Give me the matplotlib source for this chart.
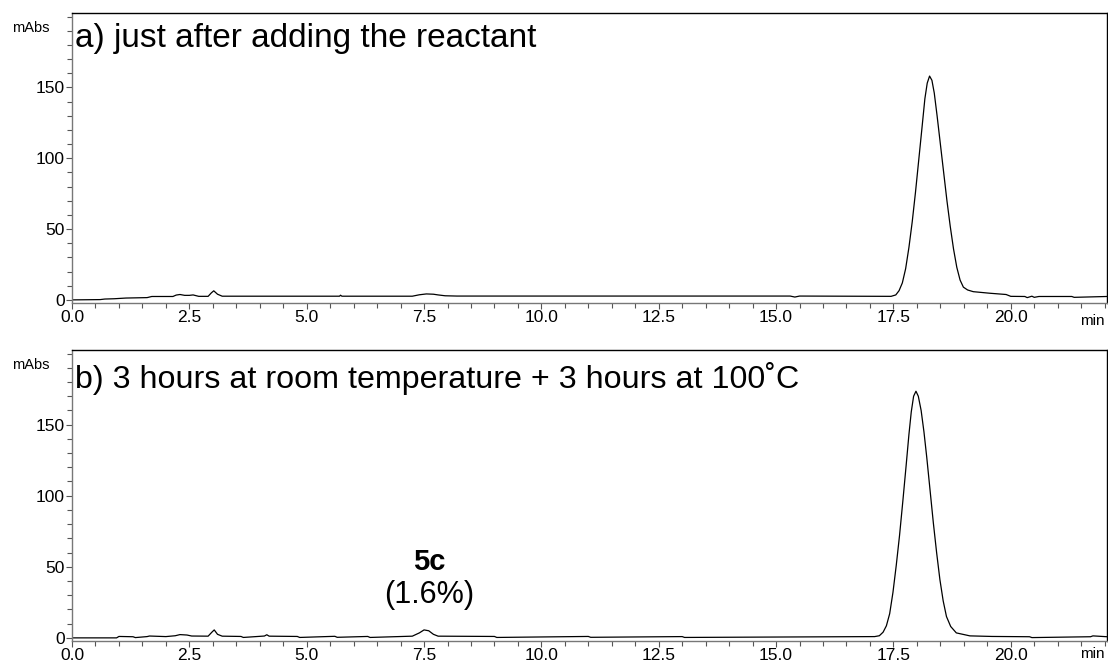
import numpy as np
import matplotlib
matplotlib.use("Agg")
import matplotlib.pyplot as plt
from matplotlib.ticker import MultipleLocator, FormatStrFormatter

# trace a) just after adding the reactant  (time in min, signal in mAbs)
time_a = [0.0, 0.6, 0.7, 0.9, 1.15, 1.6, 1.7, 2.15, 2.22, 2.3, 2.4, 2.5, 2.58, 2.7,
          2.9, 2.97, 3.02, 3.1, 3.2, 5.7, 5.72, 5.75, 7.25, 7.4, 7.55, 7.7, 7.8,
          7.95, 8.2, 15.3, 15.4, 15.5, 17.45, 17.55, 17.62, 17.69, 17.76, 17.83,
          17.90, 17.97, 18.04, 18.11, 18.17, 18.22, 18.27, 18.32, 18.37, 18.43,
          18.50, 18.57, 18.64, 18.71, 18.78, 18.85, 18.92, 18.99, 19.08, 19.20,
          19.55, 19.9, 20.0, 20.3, 20.35, 20.45, 20.5, 20.6, 21.3, 21.35, 22.05]
signal_a = [0.0, 0.2, 0.6, 0.8, 1.3, 1.6, 2.4, 2.4, 3.4, 3.8, 3.2, 3.2, 3.5, 2.5,
            2.5, 5.0, 6.4, 4.0, 2.6, 2.6, 3.3, 2.6, 2.6, 3.6, 4.2, 4.0, 3.5,
            2.9, 2.7, 2.7, 2.0, 2.7, 2.5, 3.5, 6.5, 12.0, 22.0, 37.0,
            55.0, 76.0, 99.0, 122.0, 142.0, 153.0, 158.0, 155.0, 146.0, 130.0,
            110.0, 90.0, 70.0, 52.0, 36.0, 23.0, 14.0, 9.0, 7.0, 5.8,
            4.7, 3.8, 2.5, 2.4, 1.6, 2.6, 1.8, 2.4, 2.4, 1.8, 2.4]

# trace b) 3 h at room temperature + 3 h at 100 C
time_b = [0.0, 0.95, 1.0, 1.3, 1.35, 1.6, 1.65, 2.0, 2.2, 2.3, 2.45, 2.55, 2.9,
          2.98, 3.03, 3.1, 3.2, 3.6, 3.65, 4.1, 4.15, 4.2, 4.8, 4.85, 5.6,
          5.65, 6.3, 6.35, 7.25, 7.4, 7.5, 7.6, 7.7, 7.8, 9.0, 9.05, 11.0,
          11.05, 13.0, 13.05, 17.1, 17.2, 17.28, 17.35, 17.42, 17.49, 17.56,
          17.63, 17.70, 17.77, 17.83, 17.88, 17.93, 17.98, 18.03, 18.09, 18.15,
          18.21, 18.28, 18.35, 18.42, 18.49, 18.56, 18.63, 18.72, 18.84, 19.13,
          19.6, 20.4, 20.45, 21.7, 21.75, 22.05]
signal_b = [0.0, 0.0, 1.0, 0.8, 0.2, 0.9, 1.3, 0.9, 1.5, 2.3, 2.0, 1.3, 1.2,
            4.0, 5.6, 2.5, 1.2, 1.0, 0.3, 1.3, 2.2, 1.2, 1.0, 0.3, 1.1,
            0.4, 1.0, 0.3, 1.2, 3.5, 5.6, 5.0, 2.5, 1.2, 1.0, 0.3, 1.0,
            0.4, 0.9, 0.3, 0.9, 1.5, 4.0, 8.5, 17.0, 32.0, 51.0,
            72.0, 96.0, 121.0, 143.0, 159.0, 170.0, 173.5, 170.0, 160.0, 145.0,
            127.0, 104.0, 81.0, 60.0, 41.0, 26.0, 15.0, 8.0, 3.5, 1.4,
            1.0, 0.8, 0.2, 0.8, 1.4, 0.8]

titles = ["a) just after adding the reactant",
          "b) 3 hours at room temperature + 3 hours at 100\u02daC"]
x_ticks = [0.0, 2.5, 5.0, 7.5, 10.0, 12.5, 15.0, 17.5, 20.0]
y_ticks = [0, 50, 100, 150]

font = ["Liberation Sans", "DejaVu Sans"]

fig = plt.figure(figsize=(11.08, 6.64), dpi=100)

# axes placed in pixels of the 1108x664 picture
W, H = 1108, 664
boxes = [(72, 13, 1107, 303), (72, 350, 1107, 641)]
title_y = [0.883, 0.869]
title_size = [24, 23.2]
min_y = [-0.063, -0.045]
traces = [(time_a, signal_a), (time_b, signal_b)]

for i in range(2):
    l, t, r, b = boxes[i]
    ax = fig.add_axes([l / W, 1 - b / H, (r - l) / W, (b - t) / H])
    ax.plot(traces[i][0], traces[i][1], color="black", lw=0.9)
    ax.set_xlim(0, 22.05)
    ax.set_ylim(-2.2, 202.5)

    ax.set_xticks(x_ticks)
    ax.set_yticks(y_ticks)
    ax.xaxis.set_minor_locator(MultipleLocator(0.5))
    ax.yaxis.set_minor_locator(MultipleLocator(10))
    ax.xaxis.set_major_formatter(FormatStrFormatter("%.1f"))
    ax.tick_params(which="major", length=4.5, width=0.8, color="#555555",
                   pad=0.5, labelsize=12.5, labelfontfamily=font)
    ax.tick_params(which="minor", length=3.5, width=0.8, color="#555555")

    for side in ["left", "bottom"]:
        ax.spines[side].set_color("#777777")
        ax.spines[side].set_linewidth(1.0)
    for side in ["top", "right"]:
        ax.spines[side].set_color("black")
        ax.spines[side].set_linewidth(1.0)

    ax.text(0.003, title_y[i], titles[i], transform=ax.transAxes,
            fontsize=title_size[i], family=font, va="baseline", ha="left")
    ax.text(-0.058, 0.95, "mAbs", transform=ax.transAxes, fontsize=10.5,
            family=font, va="center", ha="left")
    ax.text(0.998, min_y[i], "min", transform=ax.transAxes, fontsize=11,
            family=font, va="center", ha="right")

    if i == 1:
        ax.text(7.62, 53.5, "5c", fontsize=21, fontweight="bold",
                family=font, ha="center", va="center")
        ax.text(7.62, 30.0, "(1.6%)", fontsize=22,
                family=font, ha="center", va="center")

fig.savefig("out.png", dpi=100)
